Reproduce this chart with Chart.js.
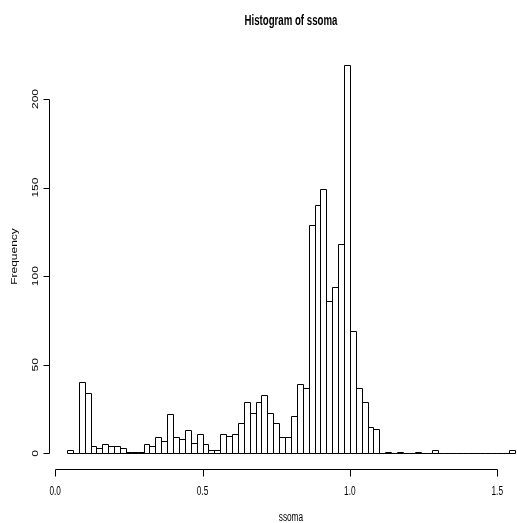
<!DOCTYPE html>
<html>
<head>
<meta charset="utf-8">
<script src="https://cdn.jsdelivr.net/npm/chart.js@4"></script>
<style>
  html, body { margin: 0; padding: 0; background: #fff; }
</style>
</head>
<body>
<canvas id="histChart" width="517" height="523"></canvas>
<script>
// histogram bins: first break and bin width
const binStart = 0.04;
const binWidth = 0.02;

// counts per bin, 0.04 .. 1.56
const counts = [
    2, 0, 40, 34, 4, 3, 5, 4, 4, 3,
    1, 1, 1, 5, 4, 9, 7, 22, 9, 8,
    13, 6, 11, 5, 2, 2, 11, 10, 11, 17,
    29, 23, 29, 33, 23, 17, 9, 9, 21, 39,
    37, 129, 140, 149, 86, 94, 118, 219, 69, 37,
    29, 15, 14, 0, 1, 0, 1, 0, 0, 1,
    0, 0, 2, 0, 0, 0, 0, 0, 0, 0,
    0, 0, 0, 0, 0, 2
];

const xTicks = [0, 0.5, 1, 1.5];
const xTickLabels = ['0.0', '0.5', '1.0', '1.5'];
const yTicks = [0, 50, 100, 150, 200];
const yTickLabels = ['0', '50', '100', '150', '200'];

const titleText = 'Histogram of ssoma';
const xLabel = 'ssoma';
const yLabel = 'Frequency';

const FONT = '"Liberation Sans", Arial, Helvetica, sans-serif';
const SQUEEZE = 0.69; // text is drawn narrow, like the old R device output

const binMids = counts.map((c, i) => binStart + binWidth * i + binWidth / 2);

function squeezedText(ctx, text, x, y, font, angle) {
    ctx.save();
    ctx.translate(x, y);
    ctx.scale(SQUEEZE, 1);
    if (angle) ctx.rotate(angle);
    ctx.font = font;
    ctx.fillStyle = '#000';
    ctx.textAlign = 'center';
    ctx.textBaseline = 'middle';
    ctx.fillText(text, 0, 0);
    ctx.restore();
}

// black outlines around every bar (zero bins become a flat line)
const outlineBars = {
    id: 'outlineBars',
    afterDatasetsDraw(chart) {
        const ctx = chart.ctx;
        const meta = chart.getDatasetMeta(0);
        ctx.save();
        ctx.strokeStyle = '#000';
        ctx.lineWidth = 1;
        meta.data.forEach(bar => {
            const { x, y, base, width } = bar.getProps(['x', 'y', 'base', 'width'], true);
            const l = Math.round(x - width / 2) + 0.5;
            const r = Math.round(x + width / 2) + 0.5;
            const t = Math.round(y) + 0.5;
            const b = Math.round(base) + 0.5;
            ctx.beginPath();
            ctx.rect(l, t, r - l, b - t);
            ctx.stroke();
        });
        ctx.restore();
    }
};

// R style axes, tick labels and titles
const rAxes = {
    id: 'rAxes',
    afterDraw(chart) {
        const ctx = chart.ctx;
        const xs = chart.scales.x;
        const ys = chart.scales.y;
        const area = chart.chartArea;
        ctx.save();
        ctx.strokeStyle = '#000';
        ctx.lineWidth = 1;

        // x axis
        const axY = Math.round(area.bottom) + 0.5;
        const x0 = Math.round(xs.getPixelForValue(xTicks[0])) + 0.5;
        const x1 = Math.round(xs.getPixelForValue(xTicks[xTicks.length - 1])) + 0.5;
        ctx.beginPath();
        ctx.moveTo(x0, axY);
        ctx.lineTo(x1, axY);
        xTicks.forEach(v => {
            const px = Math.round(xs.getPixelForValue(v)) + 0.5;
            ctx.moveTo(px, axY);
            ctx.lineTo(px, axY + 7);
        });
        ctx.stroke();
        xTicks.forEach((v, i) => {
            squeezedText(ctx, xTickLabels[i], xs.getPixelForValue(v), axY + 22, '12px ' + FONT);
        });

        // y axis
        const axX = Math.round(area.left) + 0.5;
        const y0 = Math.round(ys.getPixelForValue(yTicks[0])) + 0.5;
        const y1 = Math.round(ys.getPixelForValue(yTicks[yTicks.length - 1])) + 0.5;
        ctx.beginPath();
        ctx.moveTo(axX, y0);
        ctx.lineTo(axX, y1);
        yTicks.forEach(v => {
            const py = Math.round(ys.getPixelForValue(v)) + 0.5;
            ctx.moveTo(axX, py);
            ctx.lineTo(axX - 6, py);
        });
        ctx.stroke();
        yTicks.forEach((v, i) => {
            squeezedText(ctx, yTickLabels[i], axX - 14, ys.getPixelForValue(v), '12px ' + FONT, -Math.PI / 2);
        });

        // titles
        const midX = xs.getPixelForValue(binStart + binWidth * counts.length / 2);
        squeezedText(ctx, titleText, midX, 21, 'bold 14px ' + FONT);
        squeezedText(ctx, xLabel, midX, 518, '12px ' + FONT);
        squeezedText(ctx, yLabel, 15, (area.top + area.bottom) / 2 - 3, '12px ' + FONT, -Math.PI / 2);
        ctx.restore();
    }
};

const ctx = document.getElementById('histChart').getContext('2d');
new Chart(ctx, {
    type: 'bar',
    data: {
        datasets: [{
            label: yLabel,
            data: counts.map((c, i) => ({ x: binMids[i], y: c })),
            backgroundColor: '#ffffff',
            borderWidth: 0,
            barPercentage: 1.0,
            categoryPercentage: 1.0
        }]
    },
    options: {
        responsive: false,
        animation: false,
        devicePixelRatio: 1,
        layout: {
            padding: { left: 49, right: 0, top: 50, bottom: 54 }
        },
        scales: {
            x: {
                type: 'linear',
                display: false,
                offset: false,
                min: -0.0208,
                max: 1.567
            },
            y: {
                display: false,
                min: -8.86,
                max: 227.66
            }
        },
        plugins: {
            legend: { display: false },
            tooltip: { enabled: false },
            title: { display: false }
        }
    },
    plugins: [outlineBars, rAxes]
});
</script>
</body>
</html>
